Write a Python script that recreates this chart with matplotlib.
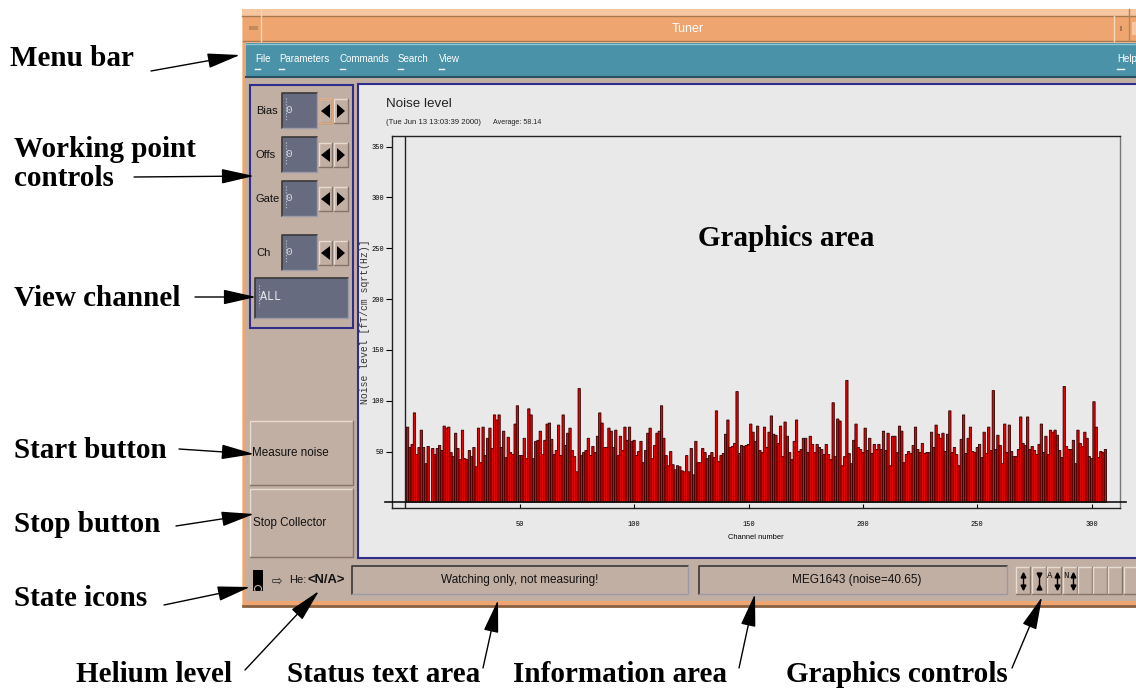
import matplotlib
matplotlib.use("Agg")
import matplotlib.pyplot as plt
from matplotlib.patches import Rectangle, Polygon, Circle

W, H = 1136, 688

# noise per channel
noise_1 = [74, 54, 57, 88, 47, 54, 71, 54, 38, 55, 0, 53, 47, 53, 56, 51, 75, 73, 74, 49,
           45, 68, 53, 42, 71, 43, 42, 51, 45, 54, 35, 73, 39, 74, 46, 63, 73, 53, 86, 81,
           86, 54, 70, 44, 64, 49, 47, 77, 95, 46, 46, 63, 43, 92, 86, 43, 60, 61, 70, 47,
           61, 77, 78, 62, 47, 51, 76, 46, 86, 56, 68, 73, 51, 45, 30, 112, 46, 49, 51, 63,
           46, 55, 49, 65, 88, 78, 54, 54, 73, 70, 54, 71, 46, 65, 51, 74, 61, 74, 60, 61]
noise_2 = [46, 50, 60, 39, 51, 68, 73, 43, 56, 68, 70, 95, 63, 46, 36, 50, 37, 32, 36, 35,
           31, 30, 46, 30, 53, 27, 60, 39, 39, 53, 49, 43, 46, 49, 44, 90, 40, 46, 48, 67,
           81, 54, 55, 58, 109, 48, 56, 55, 56, 57, 77, 69, 60, 75, 51, 49, 74, 54, 69, 85,
           67, 66, 58, 75, 45, 79, 65, 49, 42, 60, 81, 50, 52, 63, 63, 49, 65, 57, 49, 57,
           54, 52, 47, 57, 47, 42, 98, 45, 82, 80, 36, 45, 120, 48, 38, 61, 77, 54, 52, 49]
noise_3 = [73, 51, 63, 48, 57, 52, 57, 52, 70, 51, 68, 36, 65, 65, 49, 75, 70, 39, 47, 50,
           48, 56, 74, 52, 49, 58, 48, 49, 49, 69, 54, 76, 67, 63, 68, 50, 67, 90, 49, 54,
           47, 36, 62, 86, 48, 63, 74, 50, 49, 54, 57, 44, 69, 48, 74, 51, 110, 52, 66, 56,
           38, 77, 49, 76, 50, 45, 45, 52, 84, 58, 56, 84, 52, 55, 51, 47, 57, 77, 49, 65,
           47, 71, 69, 71, 66, 51, 44, 114, 55, 52, 52, 61, 38, 71, 58, 55, 69, 63, 45, 43,
           99, 74, 44, 50, 49, 52]
noise = noise_1 + noise_2 + noise_3
channels = list(range(1, len(noise) + 1))

x_ticks = [50, 100, 150, 200, 250, 300]
y_ticks = [50, 100, 150, 200, 250, 300, 350]

# annotation labels and (text end -> arrow tip)
labels = [("Menu bar", 10, 58), ("Working point\ncontrols", 14, 164), ("View channel", 14, 299),
          ("Start button", 14, 451), ("Stop button", 14, 525), ("State icons", 14, 599),
          ("Helium level", 76, 675), ("Status text area", 287, 675),
          ("Information area", 513, 675), ("Graphics controls", 786, 675)]
arrows = [((151, 71), (240, 55)), ((134, 177), (254, 176)), ((195, 297), (256, 297)),
          ((179, 449), (254, 454)), ((176, 526), (254, 514)), ((164, 605), (250, 587)),
          ((245, 670), (319, 591)), ((483, 668), (498, 600)), ((739, 668), (755, 594)),
          ((1012, 668), (1042, 597))]

ORANGE = "#efa56f"
TEAL = "#4a92a8"
PANEL = "#c2afa3"
NAVY = "#2e2e8c"
GRAPH = "#e9e9e9"
FIELD = "#666b80"
SANS = ["Liberation Sans", "DejaVu Sans"]
MONO = ["Liberation Mono", "DejaVu Sans Mono"]
SERIF = ["Liberation Serif", "DejaVu Serif"]

fig = plt.figure(figsize=(W / 100, H / 100), dpi=100, facecolor="white")
gui = fig.add_axes([0, 0, 1, 1])
gui.set_xlim(0, W)
gui.set_ylim(H, 0)
gui.axis("off")


def box(x0, y0, x1, y1, fc, ec="none", lw=0, z=1):
    gui.add_patch(Rectangle((x0, y0), x1 - x0, y1 - y0, fc=fc, ec=ec, lw=lw, zorder=z))


def raised(x0, y0, x1, y1, fc=PANEL, light="#e6dcd4", dark="#857468", z=2):
    box(x0, y0, x1, y1, fc, z=z)
    gui.plot([x0, x0, x1], [y1, y0, y0], color=light, lw=1, zorder=z + 0.1)
    gui.plot([x0, x1, x1], [y1, y1, y0], color=dark, lw=1, zorder=z + 0.1)


def sunken(x0, y0, x1, y1, fc=PANEL):
    box(x0, y0, x1, y1, fc, z=2)
    gui.plot([x0, x0, x1], [y1, y0, y0], color="#3a3836", lw=1.2, zorder=2.1)
    gui.plot([x0, x1, x1], [y1, y1, y0], color="#9b9aa8", lw=1, zorder=2.1)


# window frame
box(242, 9, W, 607, "#f6c6a0")
box(243, 16, W, 41, ORANGE, z=1.1)
gui.plot([242, W], [15.5, 15.5], color="#a87850", lw=1, zorder=1.2)
gui.plot([243, W], [41, 41], color="#a87850", lw=1, zorder=1.2)
gui.plot([260.5, 260.5], [9, 41], color="#f6d8bc", lw=1, zorder=1.2)
gui.plot([1113.5, 1113.5], [16, 41], color="#f6d8bc", lw=1, zorder=1.2)
gui.plot([1128.5, 1128.5], [9, 41], color="#b08860", lw=1, zorder=1.2)
box(249, 26, 258, 30, "#c48a5c", z=1.3)
box(1120, 26, 1122, 31, "#a87850", z=1.3)
box(1132, 22, W, 35, "#f6c6a0", z=1.3)
gui.text(688, 29, "Tuner", color="white", fontsize=9, family=SANS, ha="center", va="center", zorder=3)
box(246, 43, W, 77, TEAL, z=1.1)
gui.plot([246, W], [43.5, 43.5], color="#8cc4d4", lw=1, zorder=1.2)
gui.plot([246, W], [76.5, 76.5], color="#27515e", lw=1.5, zorder=1.2)
box(246, 77, W, 601, PANEL, z=1.1)
box(243, 601, W, 605, ORANGE, z=1.1)
gui.plot([243, W], [606, 606], color="#8a5f3e", lw=2, zorder=1.2)
box(243, 41, 246, 601, ORANGE, z=1.1)

# menu
menu_items = [("File", 255), ("Parameters", 279), ("Commands", 340), ("Search", 398), ("View", 439)]
for name, mx in menu_items:
    gui.text(mx, 59, name, color="white", fontsize=7, family=SANS, va="center", zorder=3)
    gui.plot([mx, mx + 5], [68.5, 68.5], color="white", lw=1, zorder=3)
gui.text(1117, 59, "Help", color="white", fontsize=7, family=SANS, va="center", zorder=3)
gui.plot([1117, 1124], [68.5, 68.5], color="white", lw=1, zorder=3)

# left controls
gui.add_patch(Rectangle((250, 84.5), 103, 243.5, fc="none", ec=NAVY, lw=1.5, zorder=2))
rows = [("Bias", 93), ("Offs", 137), ("Gate", 181), ("Ch", 235)]
for name, ry in rows:
    gui.text(256, ry + 18, name, color="#111111", fontsize=8, family=SANS, va="center", zorder=3)
    sunken(282, ry, 317, ry + 35, FIELD)
    gui.text(289, ry + 17, "0", color="#d8d8d8", fontsize=8, family=MONO, ha="center", va="center", zorder=3)
    gui.plot([285.5, 285.5], [ry + 5, ry + 28], color="#c8c8d0", lw=0.8, ls=":", zorder=3)
    raised(319, ry + 6, 332, ry + 30)
    raised(334, ry + 6, 348, ry + 30)
    gui.add_patch(Polygon([[321, ry + 18], [330, ry + 11], [330, ry + 25]], fc="black", zorder=3))
    gui.add_patch(Polygon([[345, ry + 18], [337, ry + 11], [337, ry + 25]], fc="black", zorder=3))
gui.add_patch(Rectangle((319, 99), 13, 24, fc="none", ec="#e0a878", lw=1, zorder=2.5))
sunken(255, 278, 348, 318, FIELD)
gui.text(260, 297, "ALL", color="#e8e8e8", fontsize=8.5, family=MONO, va="center", zorder=3)
gui.plot([258.5, 258.5], [285, 306], color="#c8c8d0", lw=0.8, ls=":", zorder=3)

raised(250, 421, 353, 485)
gui.text(252, 453, "Measure noise", color="#111111", fontsize=8.4, family=SANS, va="center", zorder=3)
raised(250, 489, 353, 557)
gui.text(253, 523, "Stop Collector", color="#111111", fontsize=8.4, family=SANS, va="center", zorder=3)

# graph area background
box(358, 85, W, 558, GRAPH, z=1.5)
gui.plot([358, 358], [84, 558], color=NAVY, lw=1.5, zorder=1.6)
gui.plot([358, W], [84, 84], color=NAVY, lw=1.5, zorder=1.6)
gui.plot([358, W], [558, 558], color=NAVY, lw=1.5, zorder=1.6)

# status bar
sunken(352, 566, 688, 594)
gui.text(520, 580, "Watching only, not measuring!", color="#111111", fontsize=8.5, family=SANS,
         ha="center", va="center", zorder=3)
sunken(699, 566, 1007, 594)
gui.text(857, 580, "MEG1643 (noise=40.65)", color="#111111", fontsize=8.5, family=SANS,
         ha="center", va="center", zorder=3)
box(253, 570, 263, 591, "black", z=3)
gui.add_patch(Circle((258, 589), 3.5, fc="none", ec="#c2afa3", lw=0.8, zorder=3.1))
gui.text(277, 581, "\u21e8", color="#222222", fontsize=9, family="DejaVu Sans", ha="center", va="center", zorder=3)
gui.text(289, 580, "He:", color="#111111", fontsize=8, family=SANS, va="center", zorder=3)
gui.text(308, 580, "<N/A>", color="#111111", fontsize=9.4, family=SANS, weight="bold", va="center", zorder=3)

button_x = [1016, 1031.5, 1047, 1062.5, 1078, 1093, 1108, 1124]
for i, bx in enumerate(button_x):
    raised(bx, 567, bx + 14, 594)
    if i < 4:
        cx = bx + 7 if i < 2 else bx + 10
        gui.plot([cx, cx], [573, 589], color="black", lw=1, zorder=3)
        gui.plot([cx], [575], marker="v" if i == 1 else "^", ms=3.5, color="black", zorder=3)
        gui.plot([cx], [587], marker="^" if i == 1 else "v", ms=3.5, color="black", zorder=3)
gui.text(1050, 576, "A", color="#111111", fontsize=6.5, family=MONO, ha="center", va="center", zorder=3)
gui.text(1066, 576, "N", color="#111111", fontsize=6.5, family=MONO, ha="center", va="center", zorder=3)

# annotations
for text, tx, ty in labels:
    gui.text(tx, ty, text, color="black", fontsize=21, family=SERIF, weight="bold", va="center",
             linespacing=1.12, zorder=4)
for start, tip in arrows:
    gui.annotate("", xy=tip, xytext=start, zorder=5,
                 arrowprops=dict(arrowstyle="-|>,head_length=1.85,head_width=0.42", mutation_scale=11,
                                 shrinkA=0, shrinkB=0, lw=1, color="black"))

# noise chart
left, right, top, bottom = 391.5, 1120, 136, 508
ax = fig.add_axes([left / W, 1 - bottom / H, (right - left) / W, (bottom - top) / H], facecolor="none", zorder=2)
px_x, px_y = 2.288, 1.016
ax.set_xlim((left - 405.3) / px_x, (right - 405.3) / px_x)
ax.set_ylim((502.3 - bottom) / px_y, (502.3 - top) / px_y)
bars = ax.bar(channels, noise, width=1, color="#ee0000", edgecolor="#2a0000", linewidth=0.6, zorder=3)
for b in bars:
    b.set_snap(False)
ax.axvline(0, color="#222222", lw=1, zorder=2)
ax.plot([-8.8, 315], [0, 0], color="#111111", lw=1.2, clip_on=False, zorder=4)
for side in ax.spines:
    ax.spines[side].set_color("#222222")
    ax.spines[side].set_linewidth(1)
ax.spines["right"].set_color("#777777")
ax.set_xticks(x_ticks)
ax.set_yticks(y_ticks)
ax.tick_params(axis="x", direction="in", length=3, width=0.8, pad=9, labelsize=5, labelfontfamily=MONO[0])
ax.tick_params(axis="y", direction="out", length=4, width=0.8, pad=1, labelsize=5, labelfontfamily=MONO[0])
ax.set_xlabel("Channel number", fontsize=5.4, family=SANS, labelpad=4.5)
ax.set_ylabel("Noise level [fT/cm sqrt(Hz)]", fontsize=7, family=MONO, color="#333333")
ax.yaxis.set_label_coords((370 - left) / (right - left), 0.5)

gui.text(386.5, 104, "Noise level", color="#222222", fontsize=9.6, family=SANS, va="center", zorder=3)
gui.text(386.5, 122, "(Tue Jun 13 13:03:39 2000)", color="#222222", fontsize=5.6, family=SANS, va="center", zorder=3)
gui.text(493, 122, "Average: 58.14", color="#222222", fontsize=5.1, family=SANS, va="center", zorder=3)
ax.text(698, 238, "Graphics area", transform=gui.transData, fontsize=21, family=SERIF, weight="bold",
        va="center", color="black", zorder=6)

fig.savefig("out.png", dpi=100)
